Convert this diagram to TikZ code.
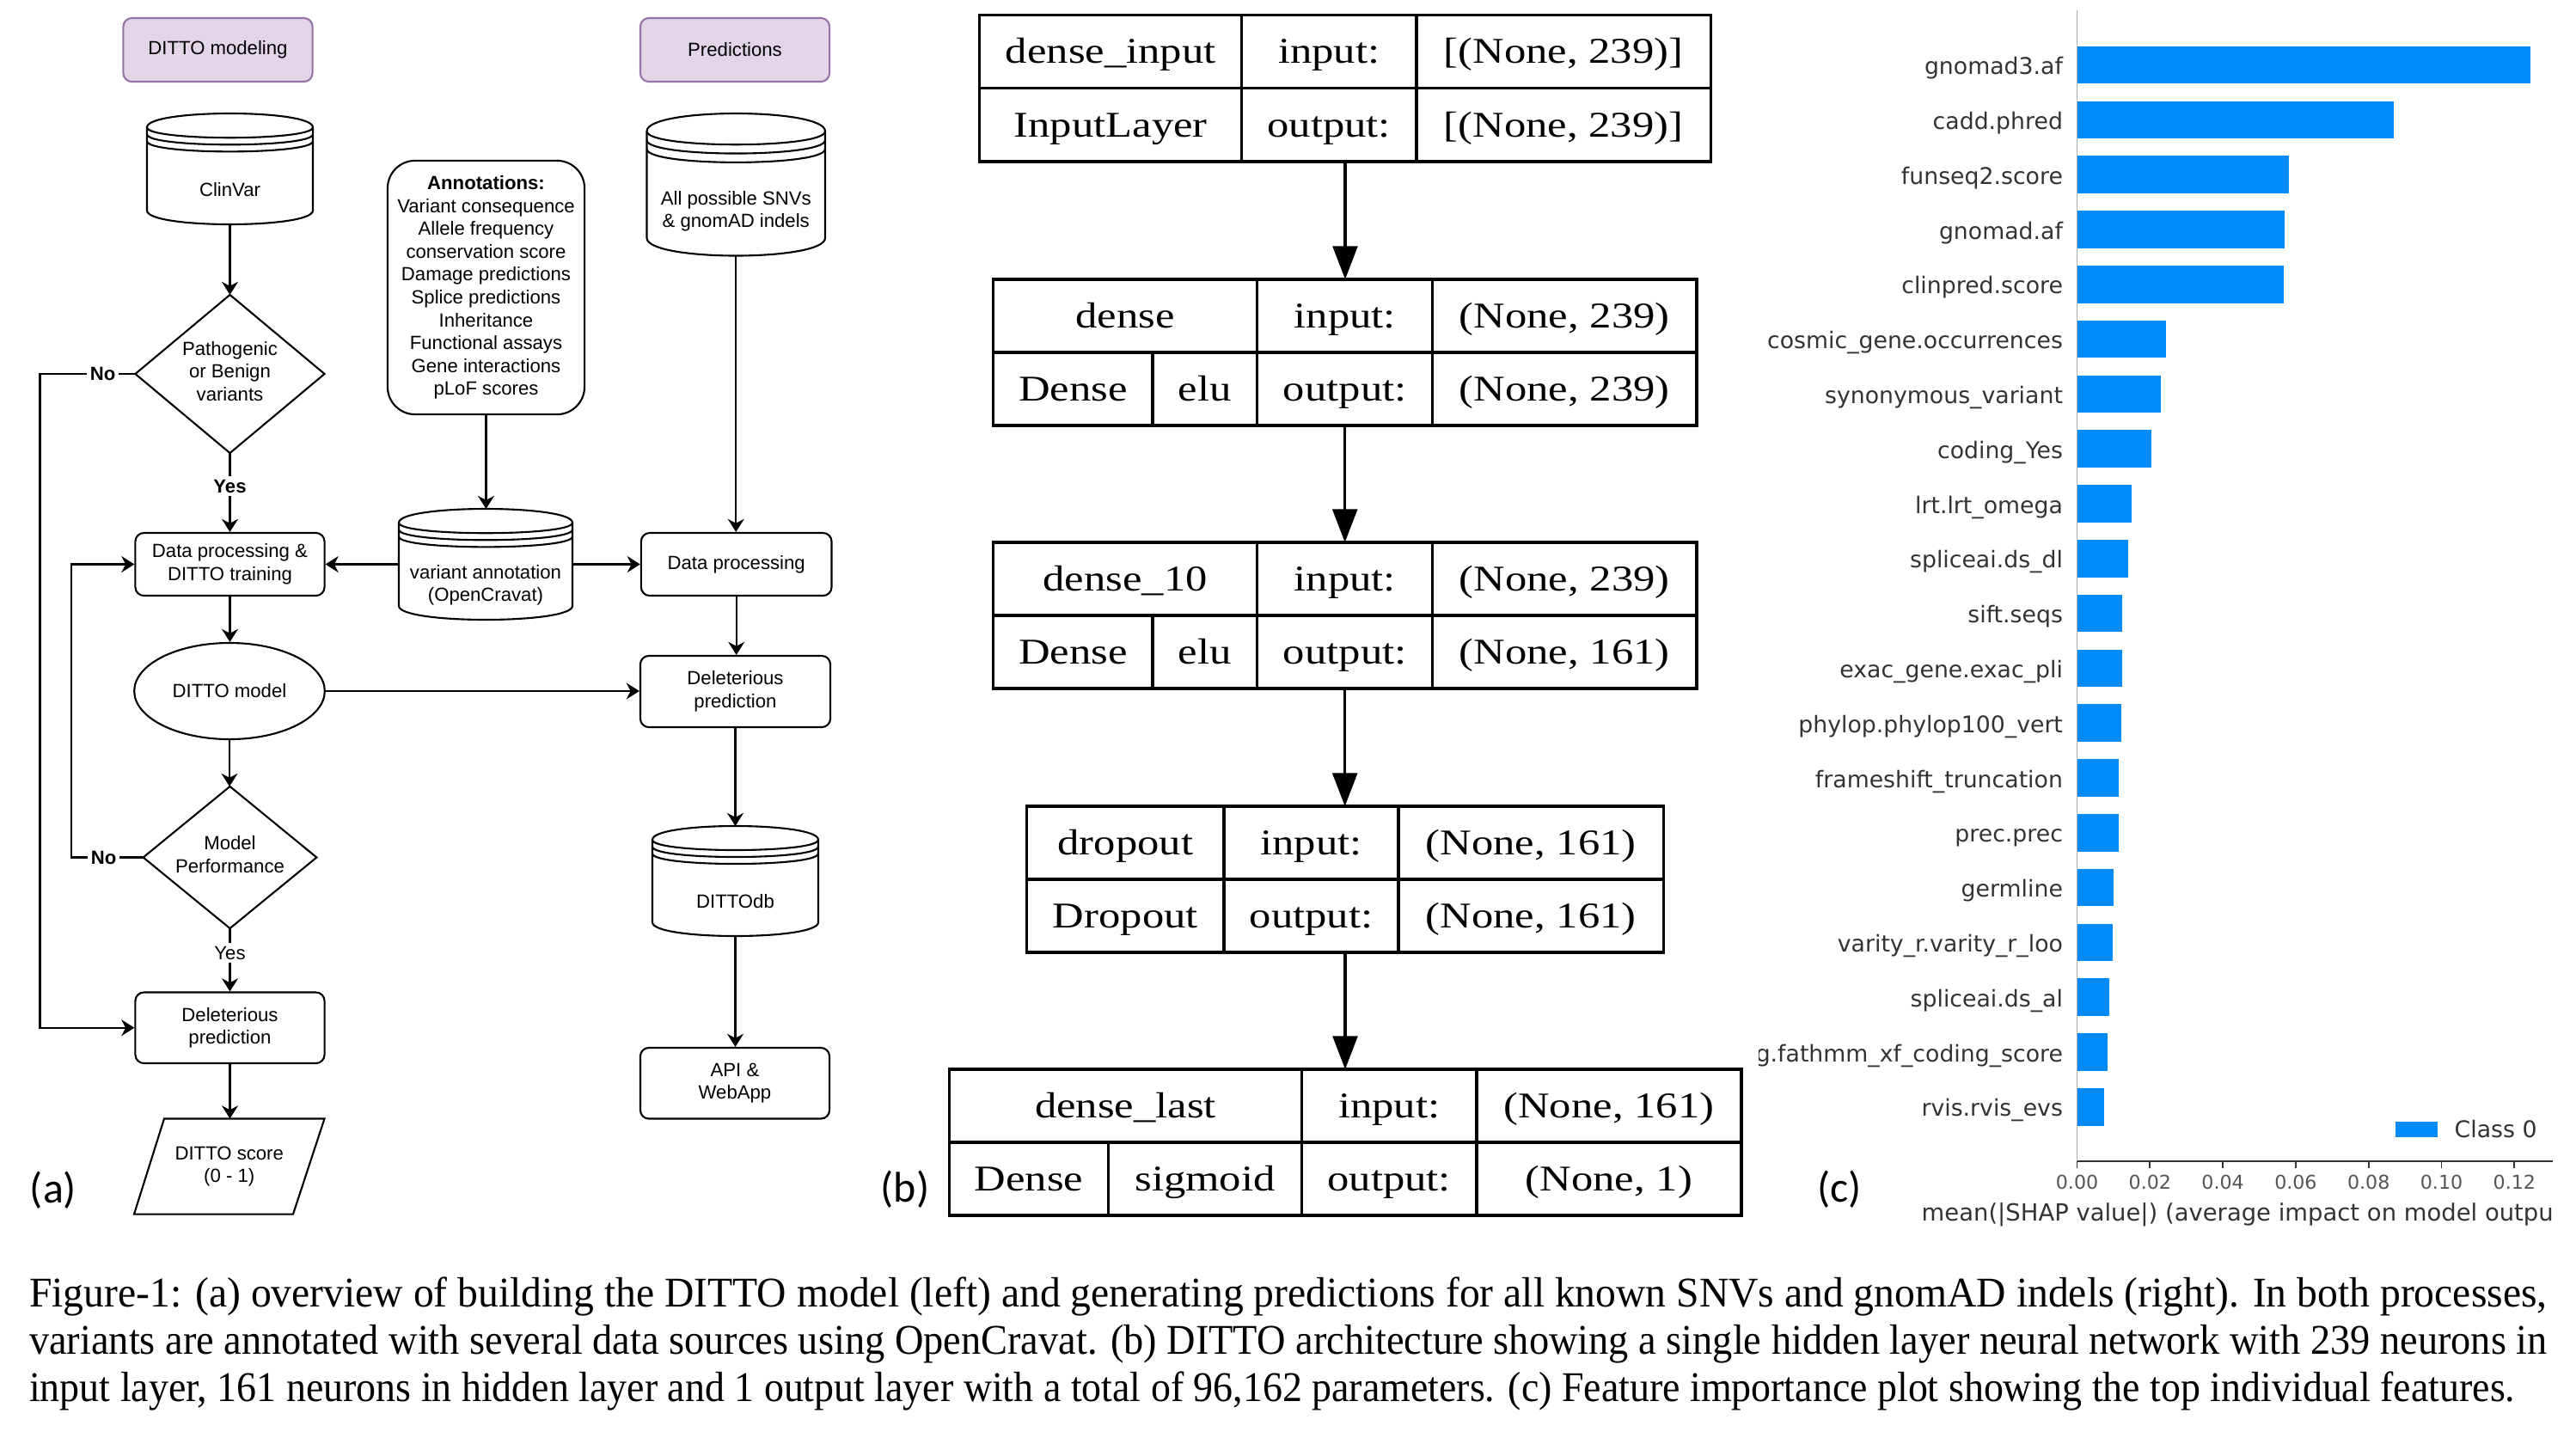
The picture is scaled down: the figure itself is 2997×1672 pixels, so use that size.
\documentclass[tikz,border=0pt]{standalone}
\usepackage{fontspec}
\usepackage{graphicx}
\usetikzlibrary{arrows.meta,shapes.geometric}
\newfontfamily\afont{Liberation Sans}
\newfontfamily\bfont[FakeStretch=1.2]{Liberation Serif}
\newfontfamily\cfont{DejaVu Sans}
\newfontfamily\lblfont{Carlito}
\newfontfamily\capfont{Liberation Serif}
\definecolor{purfill}{HTML}{E1D5E7}
\definecolor{purdraw}{HTML}{9673A6}
\definecolor{shapblue}{HTML}{008BFB}
\definecolor{axgray}{HTML}{AAAAAA}
\definecolor{txtgray}{HTML}{333333}
\definecolor{tickgray}{HTML}{555555}

\tikzset{
  aline/.style={line width=0.6pt},
  aarrow/.style={line width=0.6pt, -{Stealth[length=4.3pt,width=5.4pt,inset=1.4pt]}},
  afnt/.style={font=\afont\fontsize{6.3}{7.55}\selectfont},
  atext/.style={afnt, align=center, inner sep=0},
  abox/.style={draw, aline, rounded corners=0.1cm, atext, fill=white},
  hbox/.style={abox, fill=purfill, draw=purdraw},
  ghost/.style={inner sep=0, outer sep=0},
  albl/.style={afnt, fill=white, inner sep=1pt},
  bline/.style={line width=0.9pt},
  btab/.style={draw, bline, inner sep=0, outer sep=0},
  btxt/.style={font=\bfont\fontsize{12}{14}\selectfont, inner sep=0, anchor=base, yshift=-0.139cm},
  barrow/.style={bline, -{Triangle[length=11pt,width=8.2pt]}},
  clbl/.style={font=\cfont\fontsize{7.6}{9}\selectfont, text=txtgray, inner sep=0, text height=5.5pt, text depth=0pt},
  ctick/.style={font=\cfont\fontsize{6.3}{8}\selectfont, text=tickgray, inner sep=0, text height=4.6pt, text depth=0pt},
  plbl/.style={font=\lblfont\fontsize{14.2}{16}\selectfont, inner sep=0, anchor=base},
  captxt/.style={inner sep=0, anchor=base west}
}

% datastore: name, left, top, w, h, text
\newcommand{\dstore}[6]{%
  \pgfmathsetmacro{\dsy}{#5/8}
  \node[ghost, minimum width=#4*0.01cm, minimum height=#5*0.01cm] (#1) at (#2+#4/2, #3+#5/2) {};
  \draw[aline, fill=white] (#2,#3+\dsy) .. controls (#2,#3-\dsy/3) and (#2+#4,#3-\dsy/3) .. (#2+#4,#3+\dsy)
     -- (#2+#4,#3+#5-\dsy) .. controls (#2+#4,#3+#5+\dsy/3) and (#2,#3+#5+\dsy/3) .. (#2,#3+#5-\dsy) -- cycle;
  \foreach \kk in {0,0.5,1} {
    \draw[aline] (#2,#3+\dsy+\kk*\dsy) .. controls (#2,#3+2*\dsy+\kk*\dsy) and (#2+#4,#3+2*\dsy+\kk*\dsy) .. (#2+#4,#3+\dsy+\kk*\dsy);
  }
  \node[atext] (#1-t) at (#2+#4/2, {(#3+3*\dsy+#3+#5)/2}) {#6};
}

\begin{document}
\begin{tikzpicture}[x=0.01cm,y=-0.01cm]
\useasboundingbox (0,0) rectangle (2997,1672);
\fill[white] (0,0) rectangle (2997,1672);

%%%%%%%%%%%%%%%% Panel (a)
\node[hbox, minimum width=2.2cm, minimum height=0.74cm] (hdrA) at (253.5,58) {DITTO modeling};
\node[hbox, minimum width=2.2cm, minimum height=0.74cm] (hdrB) at (855,58) {Predictions};

\dstore{clinvar}{171}{132}{193}{129}{ClinVar}

\node[ghost, minimum width=2.2cm, minimum height=1.84cm] (diamA) at (267.5,435) {};
\draw[aline] (diamA.north) -- (diamA.east) -- (diamA.south) -- (diamA.west) -- cycle;
\node[atext] (diamA-t) at (267.5,432) {Pathogenic\\or Benign\\variants};

\node[abox, rounded corners=0.32cm, minimum width=2.29cm, minimum height=2.95cm] (annot) at (565.5,334.5)
  {\textbf{Annotations:}\\Variant consequence\\Allele frequency\\conservation score\\Damage predictions\\Splice predictions\\Inheritance\\Functional assays\\Gene interactions\\pLoF scores};

\dstore{snv}{752.5}{132}{207.5}{165.5}{All possible SNVs\\\& gnomAD indels}

\node[abox, minimum width=2.2cm, minimum height=0.73cm] (dpt) at (267.5,656.5) {Data processing \&\\DITTO training};
\dstore{varann}{464}{592}{202}{129}{variant annotation\\(OpenCravat)}
\node[abox, minimum width=2.215cm, minimum height=0.73cm] (dpr) at (856.7,656.5) {Data processing};

\node[draw, aline, ellipse, atext, minimum width=2.215cm, minimum height=1.12cm] (model) at (267,804) {DITTO model};
\node[abox, minimum width=2.21cm, minimum height=0.83cm] (delr) at (855.5,804.5) {Deleterious\\prediction};

\node[ghost, minimum width=2.016cm, minimum height=1.65cm] (diamB) at (267.5,997.5) {};
\draw[aline] (diamB.north) -- (diamB.east) -- (diamB.south) -- (diamB.west) -- cycle;
\node[atext] (diamB-t) at (267.5,994) {Model\\Performance};

\node[abox, minimum width=2.2cm, minimum height=0.825cm] (dell) at (267.5,1195.75) {Deleterious\\prediction};
\dstore{ditdb}{759}{961}{193}{128}{DITTOdb}
\node[abox, minimum width=2.2cm, minimum height=0.825cm] (api) at (855,1260.25) {API \&\\WebApp};

\node[ghost, minimum width=2.215cm, minimum height=1.111cm] (score) at (266.75,1357) {};
\draw[aline] (191,1301.5) -- (377.5,1301.5) -- (341,1412.6) -- (156,1412.6) -- cycle;
\node[atext] (score-t) at (266.75,1357) {DITTO score\\(0 - 1)};

\coordinate (loopA) at (46.5,435);
\coordinate (loopB) at (83,997.5);

\draw[aarrow] (clinvar.south) -- (diamA.north);
\draw[aarrow] (diamA.south) -- node[albl, pos=0.42] (yesA) {\textbf{Yes}} (dpt.north);
\draw[aarrow] (diamA.west) -- node[albl, pos=0.34] (noA) {\textbf{No}} (loopA) |- (dell.west);
\draw[aarrow] (diamB.west) -- node[albl, pos=0.55] (noB) {\textbf{No}} (loopB) |- (dpt.west);
\draw[aarrow] (annot.south) -- (annot.south |- varann.north);
\draw[aarrow] (varann.west) -- (dpt.east);
\draw[aarrow] (varann.east) -- (dpr.west);
\draw[aarrow] (snv.south) -- (snv.south |- dpr.north);
\draw[aarrow] (dpt.south) -- (dpt.south |- model.north);
\draw[aarrow] (model.east) -- (model.east -| delr.west);
\draw[aarrow] (dpr.south) -- (dpr.south |- delr.north);
\draw[aarrow] (model.south) -- (model.south |- diamB.north);
\draw[aarrow] (diamB.south) -- node[albl, pos=0.39] (yesB) {Yes} (dell.north);
\draw[aarrow] (delr.south) -- (delr.south |- ditdb.north);
\draw[aarrow] (ditdb.south) -- (ditdb.south |- api.north);
\draw[aarrow] (dell.south) -- (dell.south |- score.north);

\node[plbl] (la) at (62,1399) {(a)};

%%%%%%%%%%%%%%%% Panel (b)
% box 1
\node[btab, minimum width=8.5cm, minimum height=1.705cm] (b1) at (1565,102.75) {};
\draw[bline] (b1.west) -- (b1.east);
\draw[bline] (1444.5,17.9) -- (1444.5,187.6);
\draw[bline] (1648,17.9) -- (1648,187.6);
\node[btxt] (b1a) at (1292.25,60) {dense\_input};
\node[btxt] (b1b) at (1546.25,60) {input:};
\node[btxt] (b1c) at (1819,60) {[(None, 239)]};
\node[btxt] (b1d) at (1292.25,145.5) {InputLayer};
\node[btxt] (b1e) at (1546.25,145.5) {output:};
\node[btxt] (b1f) at (1819,145.5) {[(None, 239)]};

% box 2
\node[btab, minimum width=8.18cm, minimum height=1.70cm] (b2) at (1564.7,410) {};
\draw[bline] (b2.west) -- (b2.east);
\draw[bline] (1462.8,325) -- (1462.8,495);
\draw[bline] (1666.6,325) -- (1666.6,495);
\draw[bline] (1341,410) -- (1341,495);
\node[btxt] (b2a) at (1309.25,367.5) {dense};
\node[btxt] (b2b) at (1564.7,367.5) {input:};
\node[btxt] (b2c) at (1820.15,367.5) {(None, 239)};
\node[btxt] (b2d) at (1248.35,452.5) {Dense};
\node[btxt] (b2e) at (1401.9,452.5) {elu};
\node[btxt] (b2f) at (1564.7,452.5) {output:};
\node[btxt] (b2g) at (1820.15,452.5) {(None, 239)};

% box 3
\node[btab, minimum width=8.18cm, minimum height=1.70cm] (b3) at (1564.7,716) {};
\draw[bline] (b3.west) -- (b3.east);
\draw[bline] (1462.8,631) -- (1462.8,801);
\draw[bline] (1666.6,631) -- (1666.6,801);
\draw[bline] (1341,716) -- (1341,801);
\node[btxt] (b3a) at (1309.25,673.5) {dense\_10};
\node[btxt] (b3b) at (1564.7,673.5) {input:};
\node[btxt] (b3c) at (1820.15,673.5) {(None, 239)};
\node[btxt] (b3d) at (1248.35,758.5) {Dense};
\node[btxt] (b3e) at (1401.9,758.5) {elu};
\node[btxt] (b3f) at (1564.7,758.5) {output:};
\node[btxt] (b3g) at (1820.15,758.5) {(None, 161)};

% box 4
\node[btab, minimum width=7.406cm, minimum height=1.70cm] (b4) at (1565,1023) {};
\draw[bline] (b4.west) -- (b4.east);
\draw[bline] (1424,938) -- (1424,1108);
\draw[bline] (1627,938) -- (1627,1108);
\node[btxt] (b4a) at (1309.35,980.5) {dropout};
\node[btxt] (b4b) at (1525.5,980.5) {input:};
\node[btxt] (b4c) at (1781.15,980.5) {(None, 161)};
\node[btxt] (b4d) at (1309.35,1065.5) {Dropout};
\node[btxt] (b4e) at (1525.5,1065.5) {output:};
\node[btxt] (b4f) at (1781.15,1065.5) {(None, 161)};

% box 5
\node[btab, minimum width=9.211cm, minimum height=1.70cm] (b5) at (1565.15,1329) {};
\draw[bline] (b5.west) -- (b5.east);
\draw[bline] (1514.5,1244) -- (1514.5,1414);
\draw[bline] (1718,1244) -- (1718,1414);
\draw[bline] (1289.5,1329) -- (1289.5,1414);
\node[btxt] (b5a) at (1309.55,1286.5) {dense\_last};
\node[btxt] (b5b) at (1616.25,1286.5) {input:};
\node[btxt] (b5c) at (1871.85,1286.5) {(None, 161)};
\node[btxt] (b5d) at (1197,1371.5) {Dense};
\node[btxt] (b5e) at (1402,1371.5) {sigmoid};
\node[btxt] (b5f) at (1616.25,1371.5) {output:};
\node[btxt] (b5g) at (1871.85,1371.5) {(None, 1)};

\draw[barrow] (b1.south) -- (b1.south |- b2.north);
\draw[barrow] (b2.south) -- (b2.south |- b3.north);
\draw[barrow] (b3.south) -- (b3.south |- b4.north);
\draw[barrow] (b4.south) -- (b4.south |- b5.north);

\node[plbl] (lb) at (1053,1398) {(b)};

%%%%%%%%%%%%%%%% Panel (c)
\draw[axgray, line width=0.45pt] (2416.5,11.5) -- (2416.5,1350.6);
\foreach \v [count=\i from 0] in {2944,2785,2663,2658,2657,2520,2514,2503,2480,2475.6,2469,2469,2468,2465,2465,2459,2458,2454,2451.5,2448}
  \fill[shapblue] (2416.5,{53.7+63.8*\i}) rectangle (\v,{97.3+63.8*\i});
\foreach \lab [count=\i from 0] in {{gnomad3.af},{cadd.phred},{funseq2.score},{gnomad.af},{clinpred.score},{cosmic\_gene.occurrences},{synonymous\_variant},{coding\_Yes},{lrt.lrt\_omega},{spliceai.ds\_dl},{sift.seqs},{exac\_gene.exac\_pli},{phylop.phylop100\_vert},{frameshift\_truncation},{prec.prec},{germline},{varity\_r.varity\_r\_loo},{spliceai.ds\_al}}
  \node[clbl, anchor=east] (f\i) at (2400.6,{77+63.8*\i}) {\lab};
\begin{scope}
  \clip (2046,1190) rectangle (2410,1260);
  \node[clbl, anchor=east] (f18) at (2400.6,{77+63.8*18}) {fathmm\_xf\_coding.fathmm\_xf\_coding\_score};
\end{scope}
\node[clbl, anchor=east] (f19) at (2400.6,{77+63.8*19}) {rvis.rvis\_evs};

\draw[txtgray, line width=0.6pt] (2416.5,1350.6) -- (2970,1350.6);
\foreach \t [count=\i from 0] in {0.00,0.02,0.04,0.06,0.08,0.10,0.12} {
  \draw[txtgray, line width=0.5pt] ({2416.5+84.8*\i},1350.6) -- ({2416.5+84.8*\i},1359);
  \node[ctick] (tk\i) at ({2416.5+84.8*\i},1375) {\t};
}
\fill[shapblue] (2786.5,1305) rectangle (2836,1322.5);
\node[clbl, anchor=west] (leg) at (2855,1314) {Class 0};
\begin{scope}
  \clip (2200,1390) rectangle (2970,1440);
  \node[clbl, anchor=west, font=\cfont\fontsize{7.8}{9}\selectfont] (xlab) at (2235,1410.5) {mean(|SHAP value|) (average impact on model output magnitude)};
\end{scope}

\node[plbl] (lc) at (2140,1398) {(c)};

%%%%%%%%%%%%%%%% Caption
\node[captxt] (cap1) at (33.5,1520) {\resizebox{29.275cm}{\height}{\capfont\fontsize{14}{16}\selectfont Figure-1: (a) overview of building the DITTO model (left) and generating predictions for all known SNVs and gnomAD indels (right). In both processes,}};
\node[captxt] (cap2) at (33.5,1575) {\resizebox{29.275cm}{\height}{\capfont\fontsize{14}{16}\selectfont variants are annotated with several data sources using OpenCravat. (b) DITTO architecture showing a single hidden layer neural network with 239 neurons in}};
\node[captxt] (cap3) at (33.5,1630) {\resizebox{28.9cm}{\height}{\capfont\fontsize{14}{16}\selectfont input layer, 161 neurons in hidden layer and 1 output layer with a total of 96,162 parameters. (c) Feature importance plot showing the top individual features.}};
\end{tikzpicture}
\end{document}
